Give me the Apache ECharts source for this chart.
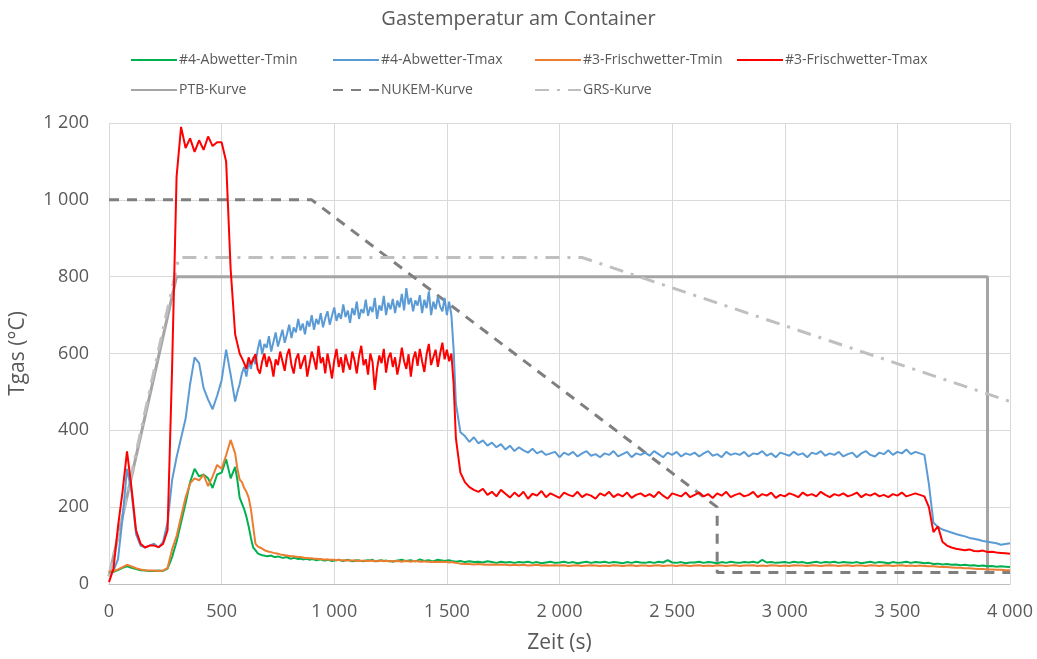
<!DOCTYPE html>
<html>
<head>
<meta charset="utf-8">
<script src="https://cdn.jsdelivr.net/npm/echarts@6/dist/echarts.min.js"></script>
<style>
  html, body { margin: 0; padding: 0; background: #fff; }
  #chart { width: 1037px; height: 659px; }
</style>
</head>
<body>
<div id="chart"></div>
<script>
// sampling times (s): 20 s steps, 10 s steps in the noisy plateau 570-1540
const zeit = [
  0, 20, 40, 60, 80, 100, 120, 140, 160, 180,
  200, 220, 240, 260, 280, 300, 320, 340, 360, 380,
  400, 420, 440, 460, 480, 500, 520, 540, 560,
  570, 580, 590, 600, 610, 620, 630, 640, 650, 660,
  670, 680, 690, 700, 710, 720, 730, 740, 750, 760,
  770, 780, 790, 800, 810, 820, 830, 840, 850, 860,
  870, 880, 890, 900, 910, 920, 930, 940, 950, 960,
  970, 980, 990, 1000, 1010, 1020, 1030, 1040, 1050, 1060,
  1070, 1080, 1090, 1100, 1110, 1120, 1130, 1140, 1150, 1160,
  1170, 1180, 1190, 1200, 1210, 1220, 1230, 1240, 1250, 1260,
  1270, 1280, 1290, 1300, 1310, 1320, 1330, 1340, 1350, 1360,
  1370, 1380, 1390, 1400, 1410, 1420, 1430, 1440, 1450, 1460,
  1470, 1480, 1490, 1500, 1510, 1520, 1530, 1540,
  1560, 1580,
  1600, 1620, 1640, 1660, 1680, 1700, 1720, 1740, 1760, 1780,
  1800, 1820, 1840, 1860, 1880, 1900, 1920, 1940, 1960, 1980,
  2000, 2020, 2040, 2060, 2080, 2100, 2120, 2140, 2160, 2180,
  2200, 2220, 2240, 2260, 2280, 2300, 2320, 2340, 2360, 2380,
  2400, 2420, 2440, 2460, 2480, 2500, 2520, 2540, 2560, 2580,
  2600, 2620, 2640, 2660, 2680, 2700, 2720, 2740, 2760, 2780,
  2800, 2820, 2840, 2860, 2880, 2900, 2920, 2940, 2960, 2980,
  3000, 3020, 3040, 3060, 3080, 3100, 3120, 3140, 3160, 3180,
  3200, 3220, 3240, 3260, 3280, 3300, 3320, 3340, 3360, 3380,
  3400, 3420, 3440, 3460, 3480, 3500, 3520, 3540, 3560, 3580,
  3600, 3620, 3640, 3660, 3680, 3700, 3720, 3740, 3760, 3780,
  3800, 3820, 3840, 3860, 3880, 3900, 3920, 3940, 3960, 3980,
  4000
];

// #4-Abwetter-Tmin
const abwTmin = [
  30, 32, 36, 42, 46, 42, 39, 36, 35, 34,
  34, 35, 34, 40, 70, 110, 160, 210, 265, 300,
  280, 285, 275, 250, 285, 290, 325, 275, 305,
  270, 225, 210, 195, 175, 150, 120, 95, 88, 80,
  77, 75, 74, 72, 73, 74, 71, 70, 72, 70,
  68, 69, 70, 67, 66, 68, 67, 65, 66, 64,
  65, 66, 63, 65, 64, 62, 63, 64, 62, 61,
  63, 62, 60, 61, 62, 63, 61, 60, 62, 63,
  61, 59, 60, 62, 61, 60, 59, 61, 62, 61,
  63, 59, 60, 61, 62, 60, 61, 59, 60, 58,
  60, 61, 62, 63, 61, 60, 61, 62, 60, 59,
  61, 64, 62, 60, 61, 62, 60, 59, 61, 63,
  62, 61, 60, 61, 62, 60, 59, 58,
  60, 57,
  59, 57, 58, 56, 59, 57, 55, 58, 56, 57,
  55, 57, 56, 58, 55, 57, 54, 56, 58, 55,
  56, 58, 55, 57, 54, 56, 58, 55, 57, 56,
  58, 55, 57, 56, 54, 57, 55, 58, 56, 55,
  57, 55, 58, 56, 62, 56, 55, 57, 54, 56,
  56, 58, 55, 57, 56, 54, 57, 55, 58, 56,
  55, 57, 56, 58, 55, 63, 56, 57, 55, 56,
  57, 55, 58, 56, 57, 54, 56, 58, 55, 57,
  56, 58, 55, 57, 56, 55, 57, 54, 56, 58,
  55, 57, 56, 54, 57, 55, 56, 58, 55, 57,
  56, 54, 55, 52, 53, 51, 52, 50, 51, 49,
  50, 48, 49, 47, 48, 46, 47, 45, 46, 45,
  44
];

// #4-Abwetter-Tmax
const abwTmax = [
  30, 35, 65, 170, 300, 240, 130, 100, 95, 100,
  105, 95, 110, 160, 270, 330, 380, 430, 520, 590,
  575, 510, 480, 455, 490, 530, 610, 545, 475,
  500, 520, 548, 565, 540, 578, 560, 590, 572, 610,
  636, 598, 625, 615, 645, 605, 630, 655, 618, 640,
  662, 628, 650, 675, 640, 668, 655, 690, 660, 678,
  650, 685, 670, 700, 662, 690, 676, 705, 668, 692,
  710, 675, 698, 720, 685, 705, 690, 728, 695, 712,
  680, 718, 700, 735, 690, 715, 705, 740, 698, 722,
  708, 745, 690, 725, 712, 750, 700, 732, 715, 742,
  705, 738, 720, 755, 712, 770, 728, 745, 710, 738,
  725, 752, 705, 740, 718, 762, 700, 735, 715, 748,
  722, 710, 745, 700, 735, 700, 610, 470,
  395, 385,
  370, 382, 366, 374, 360, 368, 356, 364, 350, 360,
  346, 356, 348, 342, 352, 340, 346, 336, 340, 344,
  330, 342, 336, 344, 332, 340, 346, 334, 338, 330,
  340, 336, 346, 332, 338, 344, 330, 340, 336, 342,
  334, 346, 338, 330, 342, 336, 344, 332, 340, 336,
  342, 332, 340, 346, 334, 338, 330, 344, 336, 340,
  336, 344, 332, 340, 338, 346, 334, 340, 330, 342,
  338, 334, 344, 336, 340, 330, 342, 338, 346, 334,
  340, 336, 344, 332, 338, 342, 330, 340, 346, 336,
  332, 342, 338, 348, 336, 344, 340, 350, 338, 344,
  340, 336, 260, 160, 148, 142, 138, 134, 130, 127,
  124, 120, 118, 115, 112, 110, 108, 106, 102, 104,
  106
];

// #3-Frischwetter-Tmin
const frischTmin = [
  32, 34, 38, 44, 50, 46, 41, 38, 36, 35,
  35, 34, 35, 42, 90, 125, 175, 225, 262, 275,
  270, 285, 255, 280, 310, 300, 335, 375, 340,
  300, 272, 265, 250, 240, 225, 195, 150, 105, 98,
  95, 92, 88, 86, 84, 83, 81, 80, 79, 77,
  76, 75, 74, 73, 72, 72, 71, 70, 70, 69,
  68, 68, 67, 67, 66, 66, 65, 65, 64, 64,
  64, 63, 63, 63, 62, 63, 62, 62, 61, 62,
  61, 61, 62, 60, 61, 60, 61, 60, 60, 61,
  60, 60, 59, 60, 61, 59, 60, 60, 59, 60,
  59, 60, 59, 58, 60, 59, 59, 58, 60, 59,
  59, 58, 58, 59, 58, 58, 57, 58, 57, 58,
  57, 58, 57, 57, 56, 57, 56, 55,
  53, 52,
  52, 51, 52, 51, 50, 51, 50, 51, 50, 49,
  50, 49, 50, 48, 49, 50, 48, 49, 48, 49,
  48, 49, 47, 48, 49, 47, 48, 49, 48, 47,
  48, 47, 49, 48, 47, 48, 49, 47, 48, 48,
  47, 48, 49, 47, 48, 48, 47, 49, 48, 47,
  48, 49, 47, 48, 47, 49, 48, 47, 48, 49,
  47, 48, 48, 49, 47, 48, 47, 49, 48, 47,
  48, 47, 49, 48, 48, 47, 49, 48, 47, 48,
  49, 48, 47, 48, 49, 47, 48, 48, 47, 49,
  48, 47, 48, 49, 47, 48, 49, 47, 48, 47,
  48, 47, 46, 46, 45, 44, 44, 43, 42, 42,
  41, 41, 40, 39, 39, 38, 38, 37, 37, 36,
  36
];

// #3-Frischwetter-Tmax
const frischTmax = [
  5, 40, 150, 240, 345, 250, 140, 105, 95, 100,
  100, 96, 104, 140, 560, 1060, 1190, 1135, 1160, 1125,
  1155, 1130, 1165, 1140, 1150, 1150, 1100, 820, 650,
  625, 600, 588, 575, 560, 590, 572, 585, 598, 560,
  548, 580, 600, 565, 592, 575, 540, 585, 570, 605,
  580, 555, 595, 612, 570, 548, 585, 600, 560, 578,
  595, 540, 572, 605, 585, 558, 620, 575, 590, 548,
  600, 570, 535, 582, 612, 565, 590, 550, 598, 575,
  558, 605, 582, 548, 592, 620, 570, 585, 545, 600,
  578, 505, 560, 595, 575, 612, 550, 588, 602, 565,
  590, 545, 575, 615, 580, 560, 598, 540, 585, 605,
  568, 612, 580, 552, 598, 625, 570, 590, 610, 565,
  600, 628, 585, 610, 580, 600, 520, 380,
  290, 265,
  252, 245, 240, 248, 232, 240, 228, 245, 235, 225,
  238, 228, 240, 222, 235, 230, 242, 226, 236, 230,
  224, 238, 232, 228, 240, 226, 234, 230, 222, 236,
  230, 240, 226, 234, 228, 238, 224, 232, 236, 228,
  234, 226, 240, 230, 222, 236, 232, 228, 238, 226,
  232, 238, 228, 234, 224, 236, 230, 240, 226, 232,
  236, 228, 232, 240, 226, 234, 230, 238, 224, 232,
  228, 236, 232, 226, 238, 230, 234, 228, 240, 232,
  226, 234, 230, 236, 228, 232, 238, 226, 234, 230,
  236, 228, 232, 226, 234, 230, 238, 228, 232, 236,
  232, 228, 200, 135, 150, 110, 100, 95, 92, 90,
  88, 90, 86, 85, 87, 83, 84, 82, 81, 80,
  79
];

// reference curves: [Zeit, Tgas]
const ptbKurve = [[0, 20], [300, 800], [3900, 800], [3900, 30]];
const nukemKurve = [[0, 1000], [900, 1000], [2700, 200], [2700, 30], [4000, 30]];
const grsKurve = [[0, 20], [310, 850], [2100, 850], [4000, 475]];

const namen = [
  '#4-Abwetter-Tmin', '#4-Abwetter-Tmax', '#3-Frischwetter-Tmin', '#3-Frischwetter-Tmax',
  'PTB-Kurve', 'NUKEM-Kurve', 'GRS-Kurve'
];
const farben = ['#00b050', '#5b9bd5', '#ed7d31', '#ff0000', '#a5a5a5', '#7f7f7f', '#bfbfbf'];

const FONT = '"Open Sans", sans-serif';
const TEXT = '#595959';

function pairs(vals) {
  return zeit.map((t, i) => [t, vals[i]]);
}

function tausender(v) {
  return String(v).replace(/\B(?=(\d{3})+(?!\d))/g, ' ');
}

const series = [
  {
    name: namen[4], type: 'line', data: ptbKurve, symbol: 'none', z: 2,
    lineStyle: { width: 3, color: farben[4] }, itemStyle: { color: farben[4] }
  },
  {
    name: namen[5], type: 'line', data: nukemKurve, symbol: 'none', z: 2,
    lineStyle: { width: 3, color: farben[5], type: [10, 8] }, itemStyle: { color: farben[5] }
  },
  {
    name: namen[6], type: 'line', data: grsKurve, symbol: 'none', z: 2,
    lineStyle: { width: 3, color: farben[6], type: [14, 8, 3, 8] }, itemStyle: { color: farben[6] }
  }
];
[abwTmin, abwTmax, frischTmin, frischTmax].forEach((vals, i) => {
  series.push({
    name: namen[i],
    type: 'line',
    data: pairs(vals),
    symbol: 'none',
    lineStyle: { width: 2, color: farben[i] },
    itemStyle: { color: farben[i] },
    z: 3 + i
  });
});

// legend laid out like the excel grid
const legPos = [[125, 48], [327, 48], [529, 48], [731, 48], [125, 78], [327, 78], [529, 78]];
const legend = namen.map((n, i) => ({
  data: [n],
  left: legPos[i][0],
  top: legPos[i][1],
  itemWidth: 46,
  itemHeight: 12,
  itemGap: 0,
  selectedMode: false,
  itemStyle: { opacity: 0, color: 'rgba(0,0,0,0)', borderWidth: 0 },
  textStyle: { fontFamily: FONT, fontSize: 14, color: TEXT, padding: [0, 0, 0, -3] }
}));

const chart = echarts.init(document.getElementById('chart'));
chart.setOption({
  animation: false,
  backgroundColor: '#fff',
  title: {
    text: 'Gastemperatur am Container',
    left: 'center',
    top: 4,
    textStyle: { fontFamily: FONT, fontSize: 20, fontWeight: 'normal', color: TEXT }
  },
  legend: legend,
  grid: { left: 108, right: 27, top: 123, bottom: 74 },
  xAxis: {
    type: 'value',
    min: 0,
    max: 4000,
    interval: 500,
    name: 'Zeit (s)',
    nameLocation: 'middle',
    nameGap: 49,
    nameTextStyle: { fontFamily: FONT, fontSize: 21, color: TEXT },
    axisLine: { lineStyle: { color: '#bfbfbf', width: 1 } },
    axisTick: { show: false },
    axisLabel: {
      fontFamily: FONT, fontSize: 18, color: TEXT, margin: 19,
      formatter: tausender
    },
    splitLine: { lineStyle: { color: '#d9d9d9', width: 1 } }
  },
  yAxis: {
    type: 'value',
    min: 0,
    max: 1200,
    interval: 200,
    name: 'Tgas (°C)',
    nameLocation: 'middle',
    nameGap: 80,
    nameTextStyle: { fontFamily: FONT, fontSize: 21, color: TEXT },
    axisLine: { show: true, lineStyle: { color: '#d9d9d9' } },
    axisTick: { show: false },
    axisLabel: {
      fontFamily: FONT, fontSize: 18, color: TEXT, margin: 20,
      formatter: tausender
    },
    splitLine: { lineStyle: { color: '#d9d9d9', width: 1 } }
  },
  series: series
});
</script>
</body>
</html>
